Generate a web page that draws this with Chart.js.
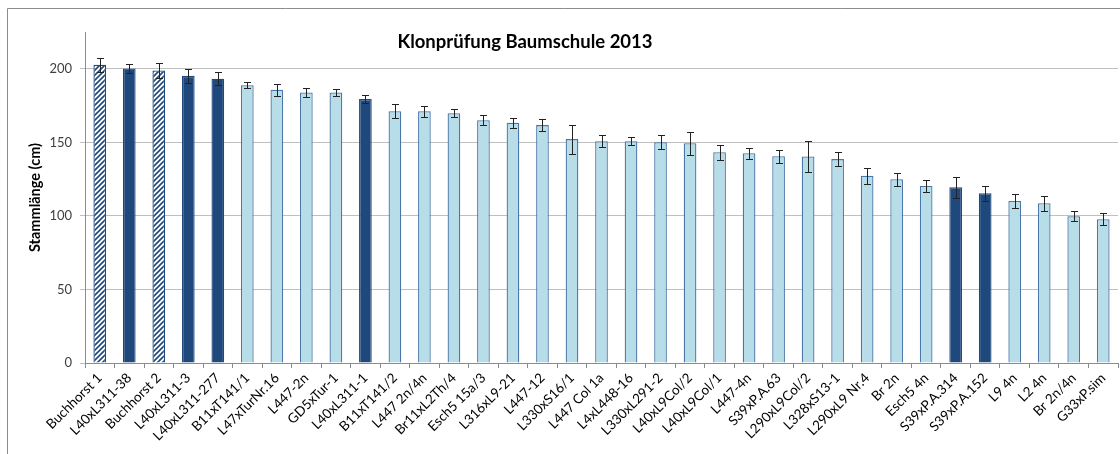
<!DOCTYPE html>
<html>
<head>
<meta charset="utf-8">
<title>Klonprüfung Baumschule 2013</title>
<script src="https://cdn.jsdelivr.net/npm/chart.js@4.4.1/dist/chart.umd.min.js"></script>
<style>
    html, body { margin: 0; padding: 0; background: #fff; }
    #wrap { position: relative; width: 1120px; height: 454px; }
</style>
</head>
<body>
<div id="wrap"><canvas id="klonChart" width="1120" height="454"></canvas></div>
<script>
    "use strict";

    // Klone, sortiert nach mittlerer Stammlänge
    var klone = ['Buchhorst 1', 'L40xL311-38', 'Buchhorst 2', 'L40xL311-3', 'L40xL311-277',
        'B11xT141/1', 'L47xTurNr.16', 'L447-2n', 'GD5xTur-1', 'L40xL311-1',
        'B11xT141/2', 'L447 2n/4n', 'Br11xL2Th/4', 'Esch5 15a/3', 'L316xL9-21',
        'L447-12', 'L330xS16/1', 'L447 Col 1a', 'L4xL448-16', 'L330xL291-2',
        'L40xL9Col/2', 'L40xL9Col/1', 'L447-4n', 'S39xP.A.63', 'L290xL9Col/2',
        'L328xS13-1', 'L290xL9 Nr.4', 'Br 2n', 'Esch5 4n', 'S39xP.A.314',
        'S39xP.A.152', 'L9 4n', 'L2 4n', 'Br 2n/4n', 'G33xP.sim'];

    var stammlaenge = [202.7, 200.2, 198.8, 195.2, 193.2,
        188.8, 185.7, 183.9, 183.9, 179.4,
        171.1, 171.1, 169.8, 165.0, 163.3,
        161.7, 152.2, 150.8, 150.8, 150.1,
        149.4, 143.3, 142.6, 140.6, 140.4,
        138.6, 127.2, 124.9, 120.4, 119.5,
        115.4, 110.2, 108.6, 99.8, 97.8];

    // Standardfehler (±)
    var fehler = [4.6, 3.0, 5.2, 4.7, 4.5,
        2.0, 4.0, 3.0, 2.3, 2.6,
        4.8, 3.9, 2.7, 3.4, 3.3,
        3.9, 9.8, 4.1, 2.7, 4.8,
        7.9, 5.1, 3.7, 4.4, 10.5,
        5.0, 5.2, 4.5, 3.9, 7.1,
        5.1, 4.6, 5.0, 3.4, 4.0];

    var referenzKlone = [0, 2];                 // Buchhorst (schraffiert)
    var l40Klone = [1, 3, 4, 9, 29, 30];        // dunkelblau hervorgehoben
    var yTicks = [0, 50, 100, 150, 200];
    var yMax = 225;

    var DUNKEL = '#1f497d';
    var HELL = '#b7dde8';
    var HELL_RAND = '#4a76a8';

    function hatchPattern() {
        var c = document.createElement('canvas');
        c.width = 5;
        c.height = 5;
        var g = c.getContext('2d');
        g.fillStyle = '#ffffff';
        g.fillRect(0, 0, 5, 5);
        g.strokeStyle = DUNKEL;
        g.lineWidth = 1.6;
        g.beginPath();
        g.moveTo(-1, 6); g.lineTo(6, -1);
        g.moveTo(-1, 1); g.lineTo(1, -1);
        g.moveTo(4, 6); g.lineTo(6, 4);
        g.stroke();
        return g.createPattern(c, 'repeat');
    }

    var schraffur = hatchPattern();
    var fuellung = klone.map(function (k, i) {
        if (referenzKlone.indexOf(i) >= 0) return schraffur;
        if (l40Klone.indexOf(i) >= 0) return DUNKEL;
        return HELL;
    });
    var rand = klone.map(function (k, i) {
        if (referenzKlone.indexOf(i) >= 0 || l40Klone.indexOf(i) >= 0) return DUNKEL;
        return HELL_RAND;
    });

    // Rahmen links/oben wie im Excel-Diagramm
    var rahmenPlugin = {
        id: 'rahmen',
        beforeDraw: function (chart) {
            var ctx = chart.ctx;
            ctx.save();
            ctx.strokeStyle = '#8c8c8c';
            ctx.lineWidth = 1;
            ctx.beginPath();
            ctx.moveTo(7.5, chart.height);
            ctx.lineTo(7.5, 8.5);
            ctx.lineTo(chart.width, 8.5);
            ctx.stroke();
            ctx.restore();
        }
    };

    var fehlerPlugin = {
        id: 'fehlerbalken',
        afterDatasetsDraw: function (chart) {
            var ctx = chart.ctx;
            var yScale = chart.scales.y;
            var meta = chart.getDatasetMeta(0);
            ctx.save();
            ctx.strokeStyle = '#222222';
            ctx.lineWidth = 1;
            meta.data.forEach(function (bar, i) {
                var x = Math.round(bar.x) + 0.5;
                var oben = Math.round(yScale.getPixelForValue(stammlaenge[i] + fehler[i])) + 0.5;
                var unten = Math.round(yScale.getPixelForValue(stammlaenge[i] - fehler[i])) + 0.5;
                ctx.beginPath();
                ctx.moveTo(x, oben); ctx.lineTo(x, unten);
                ctx.moveTo(x - 3.5, oben); ctx.lineTo(x + 3.5, oben);
                ctx.moveTo(x - 3.5, unten); ctx.lineTo(x + 3.5, unten);
                ctx.stroke();
            });
            ctx.restore();
        }
    };

    var titelPlugin = {
        id: 'titel',
        afterDraw: function (chart) {
            var ctx = chart.ctx;
            ctx.save();
            ctx.font = 'bold 18.5px Lato';
            ctx.fillStyle = '#000';
            ctx.textAlign = 'center';
            ctx.textBaseline = 'alphabetic';
            ctx.fillText('Klonprüfung Baumschule 2013', 525, 48);
            ctx.restore();
        }
    };

    var chart = new Chart(document.getElementById('klonChart'), {
        type: 'bar',
        data: {
            labels: klone,
            datasets: [{
                label: 'Stammlänge (cm)',
                data: stammlaenge,
                backgroundColor: fuellung,
                borderColor: rand,
                borderWidth: 1.3,
                borderSkipped: 'start',
                categoryPercentage: 1,
                barPercentage: 0.43
            }]
        },
        options: {
            responsive: false,
            animation: false,
            devicePixelRatio: 1,
            layout: { padding: { top: 32, right: 2, left: 0, bottom: 0 } },
            plugins: {
                legend: { display: false },
                tooltip: { enabled: false }
            },
            scales: {
                x: {
                    afterFit: function (s) { s.height = 91; },
                    ticks: {
                        autoSkip: false,
                        minRotation: 45,
                        maxRotation: 45,
                        padding: 2,
                        color: '#000',
                        font: { family: 'Lato', size: 13.5 }
                    },
                    grid: { drawOnChartArea: false, tickLength: 5, color: '#8c8c8c' },
                    border: { color: '#8c8c8c' }
                },
                y: {
                    min: 0,
                    max: yMax,
                    afterFit: function (s) { s.width = 85; },
                    afterBuildTicks: function (s) {
                        s.ticks = yTicks.map(function (v) { return { value: v }; });
                    },
                    ticks: {
                        padding: 8,
                        color: '#404040',
                        font: { family: 'Lato', size: 13 }
                    },
                    grid: { color: '#bfbfbf', tickLength: 5 },
                    border: { color: '#8c8c8c' },
                    title: {
                        display: true,
                        text: 'Stammlänge (cm)',
                        color: '#000',
                        font: { family: 'Lato', size: 14.5, weight: 'bold' },
                        padding: { top: 27, bottom: 0 }
                    }
                }
            }
        },
        plugins: [rahmenPlugin, fehlerPlugin, titelPlugin]
    });
</script>
</body>
</html>
